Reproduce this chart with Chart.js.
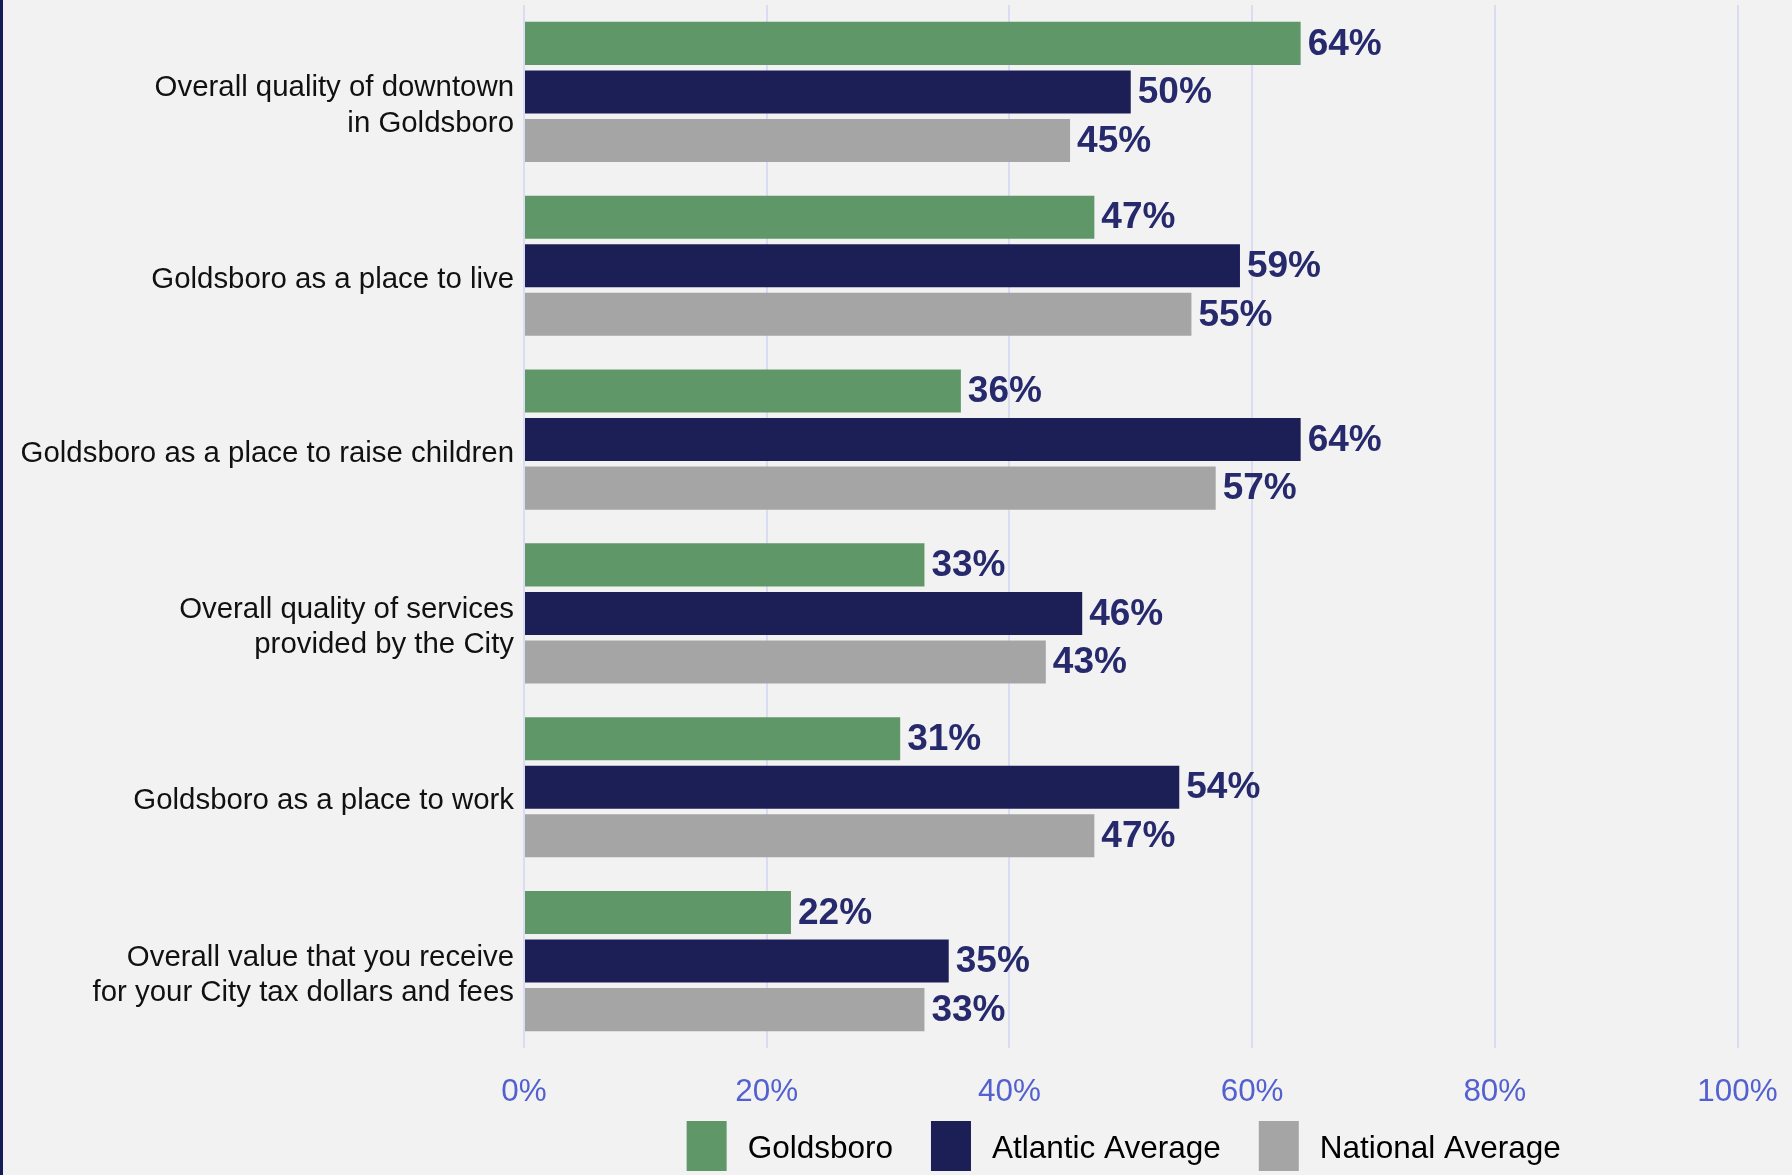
<!DOCTYPE html>
<html>
<head>
<meta charset="utf-8">
<title>Goldsboro ratings</title>
<script src="https://cdn.jsdelivr.net/npm/chart.js@4.4.1/dist/chart.umd.min.js"></script>
<style>
  html, body { margin: 0; padding: 0; background: #f2f2f2; }
  #wrap { width: 1792px; height: 1175px; }
</style>
</head>
<body>
<div id="wrap"><canvas id="ratings" width="1792" height="1175"></canvas></div>
<script>
const categories = [
  ['Overall quality of downtown', 'in Goldsboro'],
  'Goldsboro as a place to live',
  'Goldsboro as a place to raise children',
  ['Overall quality of services', 'provided by the City'],
  'Goldsboro as a place to work',
  ['Overall value that you receive', 'for your City tax dollars and fees']
];
const goldsboro = [64, 47, 36, 33, 31, 22];
const atlanticAvg = [50, 59, 64, 46, 54, 35];
const nationalAvg = [45, 55, 57, 43, 47, 33];
const xTicks = [0, 20, 40, 60, 80, 100];

const FONT = '"Liberation Sans", Arial, sans-serif';

// page background plus the dark rule down the left edge
const backdrop = {
  id: 'backdrop',
  beforeDraw(chart) {
    const { ctx, width, height } = chart;
    ctx.save();
    ctx.fillStyle = '#f2f2f2';
    ctx.fillRect(0, 0, width, height);
    ctx.fillStyle = '#141d55';
    ctx.fillRect(0, 0, 3, height);
    ctx.restore();
  }
};

// bold percentage just past the end of every bar
const valueLabels = {
  id: 'valueLabels',
  afterDatasetsDraw(chart) {
    const { ctx } = chart;
    ctx.save();
    ctx.font = 'bold 37px ' + FONT;
    ctx.fillStyle = '#262a6c';
    ctx.textAlign = 'left';
    ctx.textBaseline = 'middle';
    chart.data.datasets.forEach((ds, i) => {
      chart.getDatasetMeta(i).data.forEach((bar, j) => {
        ctx.fillText(ds.data[j] + '%', bar.x + 7, bar.y + 1);
      });
    });
    ctx.restore();
  }
};

// legend row centred under the plot area
const bottomLegend = {
  id: 'bottomLegend',
  afterDraw(chart) {
    const { ctx, chartArea } = chart;
    const boxW = 40, boxH = 50, textGap = 21, itemGap = 38;
    ctx.save();
    ctx.font = '31.5px ' + FONT;
    const items = chart.data.datasets.map(ds => ({
      label: ds.label,
      color: ds.backgroundColor,
      w: ctx.measureText(ds.label).width
    }));
    const total = items.reduce((s, it) => s + boxW + textGap + it.w, 0) + itemGap * (items.length - 1);
    let x = (chartArea.left + chartArea.right) / 2 - total / 2 - 7;
    const top = chart.scales.x.bottom + 14;
    ctx.textBaseline = 'middle';
    items.forEach(it => {
      ctx.fillStyle = it.color;
      ctx.fillRect(x, top, boxW, boxH);
      ctx.fillStyle = '#000';
      ctx.fillText(it.label, x + boxW + textGap, top + boxH / 2 + 3);
      x += boxW + textGap + it.w + itemGap;
    });
    ctx.restore();
  }
};

new Chart(document.getElementById('ratings'), {
  type: 'bar',
  data: {
    labels: categories,
    datasets: [
      { label: 'Goldsboro', data: goldsboro, backgroundColor: '#5f9769' },
      { label: 'Atlantic Average', data: atlanticAvg, backgroundColor: '#1c1f56' },
      { label: 'National Average', data: nationalAvg, backgroundColor: '#a5a5a5' }
    ]
  },
  options: {
    indexAxis: 'y',
    responsive: false,
    animation: false,
    devicePixelRatio: 1,
    categoryPercentage: 0.838,
    barPercentage: 0.887,
    layout: { padding: { top: 5, right: 54.5, bottom: 68, left: 0 } },
    plugins: {
      legend: { display: false },
      tooltip: { enabled: false }
    },
    scales: {
      x: {
        min: 0,
        max: 100,
        afterBuildTicks(scale) {
          scale.ticks = xTicks.map(v => ({ value: v }));
        },
        afterFit(scale) {
          scale.height = 59;
          scale.paddingLeft = 0;
          scale.paddingRight = 0;
        },
        grid: { color: '#dadcf1', lineWidth: 2, drawTicks: false },
        border: { display: false },
        ticks: {
          padding: 26,
          maxRotation: 0,
          color: '#5360cf',
          font: { family: FONT, size: 31.4 },
          callback: v => v + '%'
        }
      },
      y: {
        afterFit(scale) {
          scale.width = 524;
          scale.paddingTop = 0;
          scale.paddingBottom = 0;
        },
        grid: { display: false, drawTicks: false },
        border: { display: false },
        ticks: {
          autoSkip: false,
          padding: 10,
          labelOffset: 14,
          color: '#111',
          font: { family: FONT, size: 29.4, lineHeight: 1.2 }
        }
      }
    }
  },
  plugins: [backdrop, valueLabels, bottomLegend]
});
</script>
</body>
</html>
